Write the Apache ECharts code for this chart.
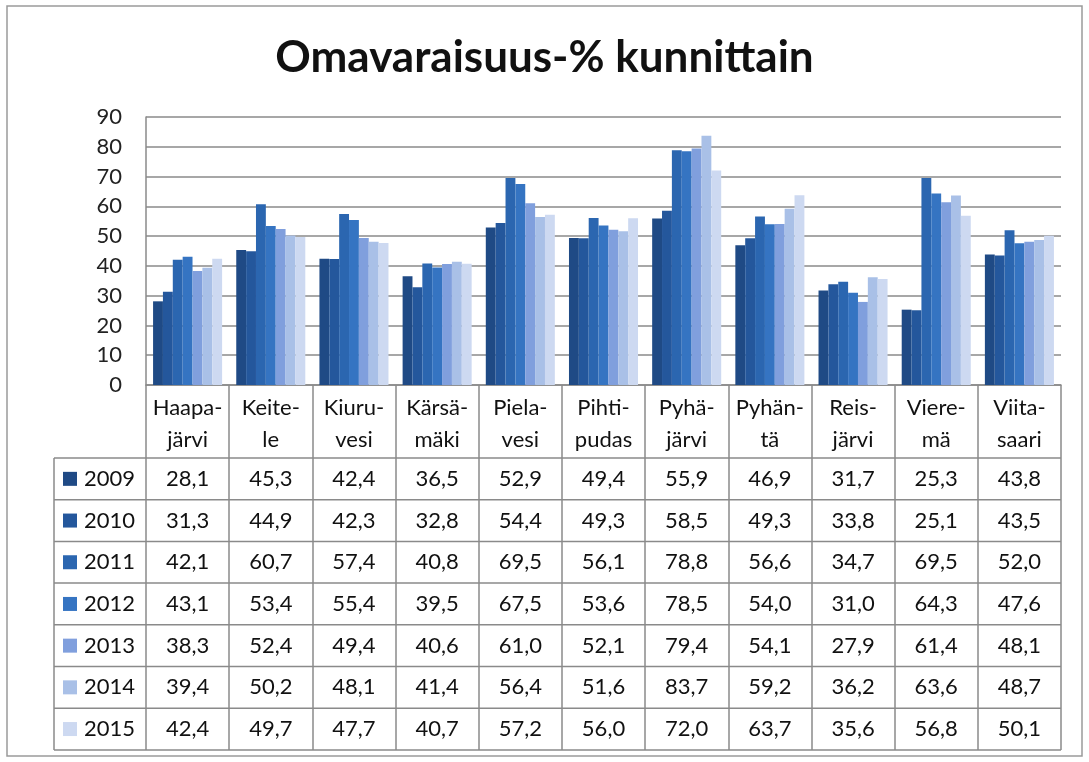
<!DOCTYPE html>
<html>
<head>
<meta charset="utf-8">
<script src="https://cdn.jsdelivr.net/npm/echarts@6/dist/echarts.min.js"></script>
<style>
  html, body { margin: 0; padding: 0; background: #fff; }
  #chart { width: 1089px; height: 762px; }
</style>
</head>
<body>
<div id="chart"></div>
<script>
// kunnat (x-akseli)
const categories = ['Haapa-\njärvi', 'Keite-\nle', 'Kiuru-\nvesi', 'Kärsä-\nmäki', 'Piela-\nvesi', 'Pihti-\npudas', 'Pyhä-\njärvi', 'Pyhän-\ntä', 'Reis-\njärvi', 'Viere-\nmä', 'Viita-\nsaari']
const years = ['2009', '2010', '2011', '2012', '2013', '2014', '2015']

const v2009 = [28.1, 45.3, 42.4, 36.5, 52.9, 49.4, 55.9, 46.9, 31.7, 25.3, 43.8]
const v2010 = [31.3, 44.9, 42.3, 32.8, 54.4, 49.3, 58.5, 49.3, 33.8, 25.1, 43.5]
const v2011 = [42.1, 60.7, 57.4, 40.8, 69.5, 56.1, 78.8, 56.6, 34.7, 69.5, 52.0]
const v2012 = [43.1, 53.4, 55.4, 39.5, 67.5, 53.6, 78.5, 54.0, 31.0, 64.3, 47.6]
const v2013 = [38.3, 52.4, 49.4, 40.6, 61.0, 52.1, 79.4, 54.1, 27.9, 61.4, 48.1]
const v2014 = [39.4, 50.2, 48.1, 41.4, 56.4, 51.6, 83.7, 59.2, 36.2, 63.6, 48.7]
const v2015 = [42.4, 49.7, 47.7, 40.7, 57.2, 56.0, 72.0, 63.7, 35.6, 56.8, 50.1]
const values = [v2009, v2010, v2011, v2012, v2013, v2014, v2015]

const yTicks = [0, 10, 20, 30, 40, 50, 60, 70, 80, 90]

const colors = ['#1f4a85', '#24579c', '#2b66b0', '#3574c2', '#809fdd', '#a9c0e7', '#cdd9f1']

const FONT = 'Lato, "Noto Sans", sans-serif'
const headerH = 73   // kuntanimien rivi
const rowH = 41.7    // taulukon rivikorkeus
const tableLeft = 54
const lineColor = '#8a8a8a'

const chart = echarts.init(document.getElementById('chart'))

const fmt = (v) => v.toFixed(1).replace('.', ',')

const option = {
  animation: false,
  backgroundColor: '#fff',
  color: colors,
  title: {
    text: 'Omavaraisuus-% kunnittain',
    left: 'center',
    top: 31,
    textStyle: { fontFamily: FONT, fontWeight: 'bold', fontSize: 44, color: '#111' }
  },
  grid: { left: 146, right: 28, top: 117, bottom: 377 },
  xAxis: {
    type: 'category',
    data: categories,
    axisLine: { lineStyle: { color: lineColor, width: 1.5 } },
    axisTick: { show: true, length: headerH + rowH * years.length, interval: 0, lineStyle: { color: lineColor, width: 1.5 } },
    axisLabel: { interval: 0, margin: 7, fontFamily: FONT, fontSize: 22, lineHeight: 32, color: '#111' }
  },
  yAxis: {
    type: 'value',
    min: yTicks[0],
    max: yTicks[yTicks.length - 1],
    interval: 10,
    axisLine: { show: true, lineStyle: { color: lineColor, width: 1.5 } },
    axisTick: { show: false },
    axisLabel: { margin: 24, fontFamily: FONT, fontSize: 22, color: '#222' },
    splitLine: { lineStyle: { color: lineColor, width: 1.5 } }
  },
  series: years.map((y, i) => ({
    name: y,
    type: 'bar',
    data: values[i],
    barGap: '0%',
    barCategoryGap: '17%'
  }))
}

chart.setOption(option)

// datataulukko akselin alle
const drawTable = () => {
  const c0 = chart.convertToPixel({ xAxisIndex: 0 }, categories[0])
  const c1 = chart.convertToPixel({ xAxisIndex: 0 }, categories[1])
  const cLast = chart.convertToPixel({ xAxisIndex: 0 }, categories[categories.length - 1])
  const xRight = cLast + (c1 - c0) / 2
  const y0 = chart.convertToPixel({ yAxisIndex: 0 }, 0)
  const top = y0 + headerH
  const els = []

  for (let r = 0; r <= years.length; r++) {
    const y = top + r * rowH
    els.push({ type: 'line', shape: { x1: tableLeft, y1: y, x2: xRight, y2: y }, style: { stroke: lineColor, lineWidth: 1.5 } })
  }
  els.push({ type: 'line', shape: { x1: tableLeft, y1: top, x2: tableLeft, y2: top + rowH * years.length }, style: { stroke: lineColor, lineWidth: 1.5 } })

  years.forEach((yr, r) => {
    const cy = top + r * rowH + rowH / 2
    els.push({ type: 'rect', shape: { x: 63, y: cy - 7, width: 14, height: 14 }, style: { fill: colors[r] } })
    els.push({ type: 'text', x: 84, y: cy, style: { text: yr, fontFamily: FONT, fontSize: 22, fill: '#111', verticalAlign: 'middle', align: 'left' } })
    categories.forEach((c, k) => {
      const cx = chart.convertToPixel({ xAxisIndex: 0 }, c)
      els.push({ type: 'text', x: cx, y: cy, style: { text: fmt(values[r][k]), fontFamily: FONT, fontSize: 22, fill: '#111', align: 'center', verticalAlign: 'middle' } })
    })
  })

  // ulkoreunus
  els.push({ type: 'rect', shape: { x: 7, y: 6, width: 1075, height: 750 }, style: { fill: 'none', stroke: '#9a9a9a', lineWidth: 1.5 } })

  chart.setOption({ graphic: els })
}

drawTable()
</script>
</body>
</html>
